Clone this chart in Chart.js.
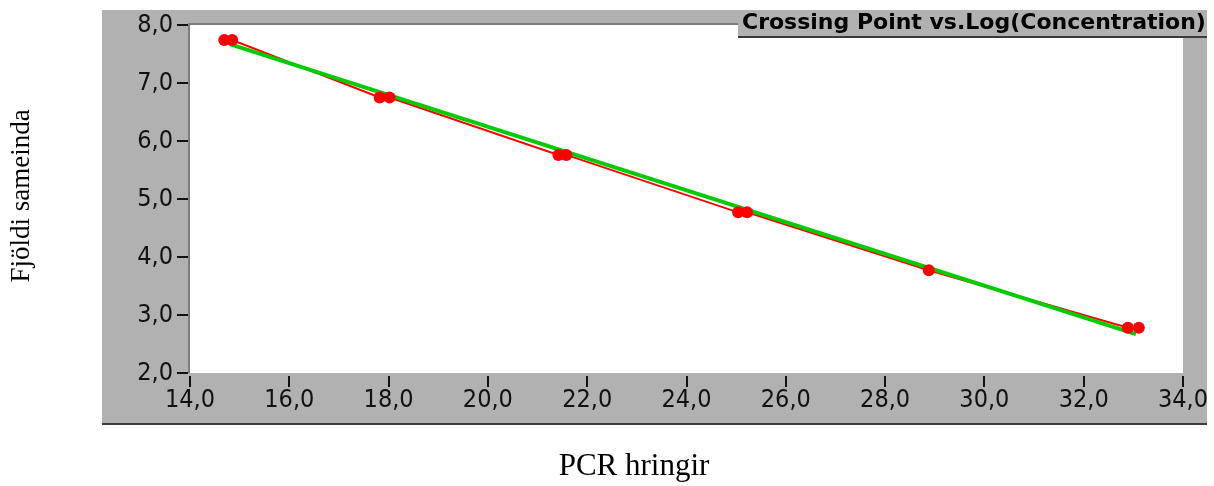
<!DOCTYPE html>
<html>
<head>
<meta charset="utf-8">
<script src="https://cdn.jsdelivr.net/npm/chart.js@4/dist/chart.umd.min.js"></script>
<style>
  html, body { margin: 0; padding: 0; background: #ffffff; }
  canvas { display: block; }
</style>
</head>
<body>
<canvas id="c" width="1214" height="486"></canvas>
<script>
// Measured crossing points (PCR cycles) and log concentration of each standard
const cycles  = [14.69, 14.85, 17.82, 18.02, 21.42, 21.58, 25.04, 25.22, 28.88, 32.89, 33.11];
const logConc = [7.74, 7.74, 6.75, 6.75, 5.76, 5.76, 4.77, 4.77, 3.77, 2.78, 2.78];

// Fitted standard curve end points
const fitCycles  = [14.8, 33.05];
const fitLogConc = [7.67, 2.67];

// Axis ticks
const xTicks = [14, 16, 18, 20, 22, 24, 26, 28, 30, 32, 34];
const yTicks = [2, 3, 4, 5, 6, 7, 8];

const chartTitle = 'Crossing Point vs.Log(Concentration)';
const xTitle = 'PCR hringir';
const yTitle = 'Fjöldi sameinda';

const PANEL = '#b1b1b1';
const INK = '#111111';
const tickFont = { family: '"Liberation Sans Narrow", "DejaVu Sans Condensed", "Liberation Sans", Arial, sans-serif', size: 25 };

const fmt = v => Number(v).toFixed(1).replace('.', ',');
const pts = (xs, ys) => xs.map((x, i) => ({ x, y: ys[i] }));

// Grey window frame, white plot well, tick marks, caption box and axis titles
const frame = {
  id: 'frame',
  beforeDraw(chart) {
    const { ctx, chartArea: a } = chart;
    ctx.save();
    ctx.fillStyle = '#ffffff';
    ctx.fillRect(0, 0, chart.width, chart.height);
    ctx.fillStyle = PANEL;
    ctx.fillRect(102, 10, 1105, 415);
    ctx.fillStyle = '#3c3c3c';
    ctx.fillRect(102, 423, 1105, 2);
    ctx.fillStyle = '#ffffff';
    ctx.fillRect(a.left, a.top, a.right - a.left, a.bottom - a.top);
    ctx.fillStyle = '#7c7c7c';
    ctx.fillRect(a.left - 2, a.top - 2, a.right - a.left + 2, 2);
    ctx.fillRect(a.left - 2, a.top - 2, 2, a.bottom - a.top + 2);
    ctx.restore();
  },
  afterDraw(chart) {
    const { ctx, chartArea: a, scales } = chart;
    ctx.save();
    ctx.fillStyle = INK;
    xTicks.forEach(v => {
      const px = Math.round(scales.x.getPixelForValue(v));
      ctx.fillRect(px - 1, a.bottom + 3, 2, 11);
    });
    yTicks.forEach(v => {
      const py = Math.round(scales.y.getPixelForValue(v));
      ctx.fillRect(a.left - 13, py - 1, 11, 2);
    });

    // caption box
    ctx.fillStyle = PANEL;
    ctx.fillRect(738, 10, 469, 28);
    ctx.fillStyle = '#3a3a3a';
    ctx.fillRect(738, 36, 469, 2);
    ctx.fillStyle = '#000000';
    ctx.font = 'bold 22px "DejaVu Sans", sans-serif';
    ctx.textBaseline = 'alphabetic';
    ctx.textAlign = 'left';
    ctx.fillText(chartTitle, 742, 29);

    // axis titles
    ctx.textAlign = 'center';
    ctx.textBaseline = 'middle';
    ctx.font = '31px "Liberation Serif", "Times New Roman", serif';
    ctx.fillText(xTitle, 634, 467);
    ctx.font = '27px "Liberation Serif", "Times New Roman", serif';
    ctx.translate(22, 196);
    ctx.rotate(-Math.PI / 2);
    ctx.fillText(yTitle, 0, 0);
    ctx.restore();
  }
};

new Chart(document.getElementById('c'), {
  type: 'scatter',
  data: {
    datasets: [
      {
        label: 'Standards',
        data: pts(cycles, logConc),
        showLine: false,
        pointRadius: 6,
        pointBackgroundColor: '#ff0000',
        pointBorderWidth: 0,
        order: 0
      },
      {
        label: 'Fit',
        data: pts(fitCycles, fitLogConc),
        showLine: true,
        borderColor: '#00cc00',
        borderWidth: 4,
        pointRadius: 0,
        order: 1
      },
      {
        label: 'Trace',
        data: pts(cycles, logConc),
        showLine: true,
        borderColor: '#ff0000',
        borderWidth: 2,
        pointRadius: 0,
        order: 2
      }
    ]
  },
  options: {
    responsive: false,
    animation: false,
    events: [],
    layout: { padding: { top: 25, right: 31, left: 0, bottom: 0 } },
    plugins: { legend: { display: false }, tooltip: { enabled: false }, title: { display: false } },
    scales: {
      x: {
        type: 'linear', min: 14, max: 34,
        afterBuildTicks: s => { s.ticks = xTicks.map(v => ({ value: v })); },
        afterFit: s => { s.height = 113; s.paddingLeft = 0; s.paddingRight = 0; },
        grid: { display: false, drawTicks: false },
        border: { display: false },
        ticks: { callback: fmt, font: tickFont, color: INK, padding: 12, maxRotation: 0, autoSkip: false }
      },
      y: {
        type: 'linear', min: 2, max: 8,
        afterBuildTicks: s => { s.ticks = yTicks.map(v => ({ value: v })); },
        afterFit: s => { s.width = 190; s.paddingTop = 0; s.paddingBottom = 0; },
        grid: { display: false, drawTicks: false },
        border: { display: false },
        ticks: { callback: fmt, font: tickFont, color: INK, padding: 17, autoSkip: false }
      }
    }
  },
  plugins: [frame]
});
</script>
</body>
</html>
